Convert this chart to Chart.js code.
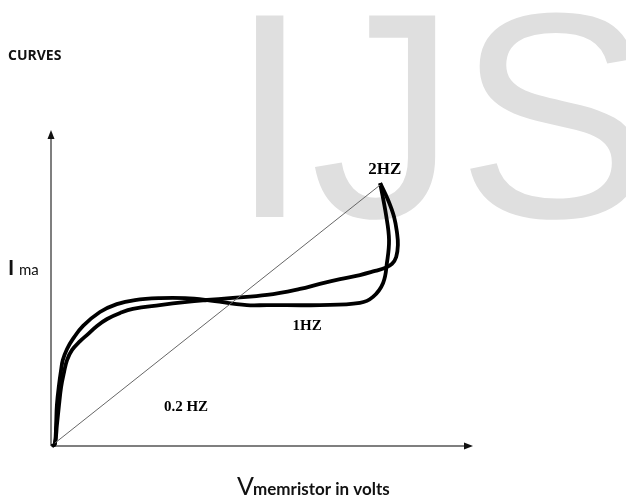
<!DOCTYPE html>
<html>
<head>
	<title>Curves</title>
	<script src="https://cdn.jsdelivr.net/npm/chart.js@4.4.0/dist/chart.umd.min.js"></script>
	<meta charset="utf-8"/>
	<style>
		body { margin: 0; background: #fff; }
		#chart-container { width: 626px; height: 500px; }
	</style>
</head>
<body>
    <div id="chart-container">
        <canvas id="myChart" width="626" height="500"></canvas>
    </div>

    <script>
        // loop, upper-left branch (dips, returns on inner side)
        var curveAx = [0.2, 0.9, 1.2, 1.4, 1.9, 2.4, 2.8, 3.8, 5.2, 7.6, 11.6, 15.6, 19.9, 25.8, 31.8, 37.0, 46.4, 51.2, 63.7, 73.2, 76.3, 78.7, 79.6, 80.1, 79.4, 78.0];
        var curveAy = [0.0, 0.6, 6.6, 13.0, 19.3, 24.1, 27.2, 30.7, 33.9, 38.0, 42.4, 44.9, 46.2, 46.8, 46.8, 46.2, 44.6, 44.6, 44.6, 45.3, 47.2, 51.6, 57.9, 65.2, 73.1, 83.2];
        // lower-left branch (keeps rising, bulges out to the right)
        var curveBx = [0.2, 0.9, 1.4, 1.9, 2.4, 3.1, 3.8, 5.0, 6.9, 8.5, 10.9, 13.3, 16.4, 19.4, 25.8, 32.2, 37.0, 42.4, 51.2, 59.0, 63.7, 68.5, 73.2, 76.8, 79.1, 80.8, 81.8, 82.2, 82.0, 81.3, 79.9, 78.0];
        var curveBy = [0.0, 0.6, 6.6, 13.0, 18.7, 23.4, 27.2, 30.4, 33.2, 35.1, 38.0, 40.2, 42.1, 43.4, 44.6, 45.6, 46.2, 46.8, 47.8, 49.7, 51.3, 52.8, 54.1, 55.4, 56.3, 57.6, 59.8, 63.6, 67.4, 72.5, 77.8, 83.2];
        // straight 0.2 Hz line
        var diagX = [0.9, 78.0];
        var diagY = [0.9, 82.6];

        var freqLabels = ['2HZ', '1HZ', '0.2 HZ'];
        var freqLabelX = [79.1, 60.7, 32.0];
        var freqLabelY = [87.5, 38.0, 12.3];
        var freqLabelSize = [17, 15, 15];

        function toPoints(xs, ys) {
            var pts = [];
            for (var i = 0; i < xs.length; i++) {
                pts.push({x: xs[i], y: ys[i]});
            }
            return pts;
        }

        var sketchPlugin = {
            id: 'sketch',
            beforeDatasetsDraw: function (chart) {
                var ctx = chart.ctx;
                var area = chart.chartArea;
                ctx.save();
                // watermark
                ctx.fillStyle = '#dfdfdf';
                ctx.font = '293px "Liberation Sans", Arial, sans-serif';
                ctx.textBaseline = 'alphabetic';
                ctx.textAlign = 'left';
                ctx.fillText('IJS', 229, 217);

                // axes with arrow heads
                ctx.strokeStyle = '#555';
                ctx.fillStyle = '#111';
                ctx.lineWidth = 1.5;
                ctx.beginPath();
                ctx.moveTo(area.left, area.bottom);
                ctx.lineTo(area.left, area.top + 6);
                ctx.moveTo(area.left, area.bottom);
                ctx.lineTo(area.right - 6, area.bottom);
                ctx.stroke();
                ctx.beginPath();
                ctx.moveTo(area.left, area.top);
                ctx.lineTo(area.left - 3.5, area.top + 9);
                ctx.lineTo(area.left + 3.5, area.top + 9);
                ctx.closePath();
                ctx.fill();
                ctx.beginPath();
                ctx.moveTo(area.right, area.bottom);
                ctx.lineTo(area.right - 9, area.bottom - 3.5);
                ctx.lineTo(area.right - 9, area.bottom + 3.5);
                ctx.closePath();
                ctx.fill();

                // title and axis names
                ctx.fillStyle = '#111';
                ctx.font = 'bold 14px "Open Sans", sans-serif';
                ctx.fillText('CURVES', 8, 60);

                ctx.font = 'bold 21px Lato, sans-serif';
                ctx.fillText('I', 8, 275);
                ctx.font = '15px Lato, sans-serif';
                ctx.fillText('ma', 19, 275);

                ctx.font = '25px Lato, sans-serif';
                ctx.fillText('V', 237, 495);
                ctx.font = 'bold 17px Lato, sans-serif';
                ctx.fillText('memristor in volts', 253, 495);
                ctx.restore();
            },
            afterDatasetsDraw: function (chart) {
                var ctx = chart.ctx;
                var xs = chart.scales.x;
                var ys = chart.scales.y;
                ctx.save();
                ctx.fillStyle = '#000';
                ctx.textAlign = 'center';
                ctx.textBaseline = 'middle';
                for (var i = 0; i < freqLabels.length; i++) {
                    ctx.font = 'bold ' + freqLabelSize[i] + 'px "Liberation Serif", "Times New Roman", serif';
                    ctx.fillText(freqLabels[i], xs.getPixelForValue(freqLabelX[i]), ys.getPixelForValue(freqLabelY[i]));
                }
                ctx.restore();
            }
        };

        var chartTarget = document.getElementById('myChart');

        var lineChart = new Chart(chartTarget, {
            type: 'scatter',
            data: {
                datasets: [
                    {
                        label: '0.2 HZ',
                        data: toPoints(diagX, diagY),
                        showLine: true,
                        borderColor: '#666666',
                        borderWidth: 1,
                        pointRadius: 0,
                        clip: false
                    },
                    {
                        label: '2HZ',
                        data: toPoints(curveAx, curveAy),
                        showLine: true,
                        borderColor: '#000000',
                        borderWidth: 3.8,
                        tension: 0.4,
                        pointRadius: 0,
                        clip: false
                    },
                    {
                        label: '1HZ',
                        data: toPoints(curveBx, curveBy),
                        showLine: true,
                        borderColor: '#000000',
                        borderWidth: 3.8,
                        tension: 0.4,
                        pointRadius: 0,
                        clip: false
                    }
                ]
            },
            options: {
                responsive: false,
                animation: false,
                layout: { padding: { left: 51, right: 153, top: 130, bottom: 54 } },
                plugins: {
                    legend: { display: false },
                    tooltip: { enabled: false }
                },
                scales: {
                    x: { type: 'linear', min: 0, max: 100, display: false },
                    y: { type: 'linear', min: 0, max: 100, display: false }
                }
            },
            plugins: [sketchPlugin]
        });
    </script>

</body>
</html>
